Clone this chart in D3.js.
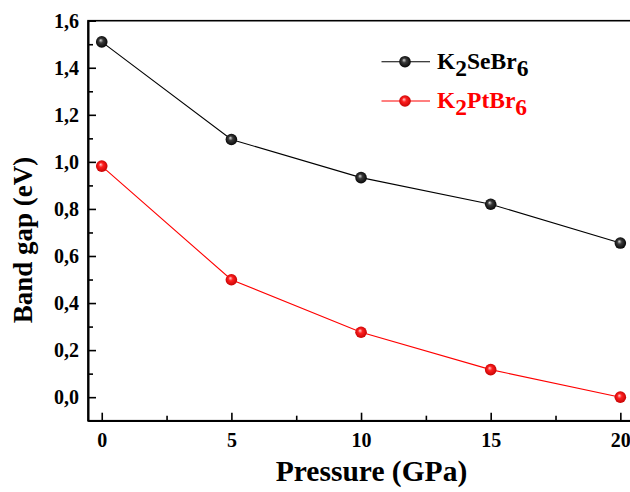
<!DOCTYPE html>
<html>
<head>
<meta charset="utf-8">
<script src="https://cdn.jsdelivr.net/npm/d3@7"></script>
<style>
  html, body { margin: 0; padding: 0; background: #fff; }
  svg { display: block; font-family: "Liberation Serif", "Times New Roman", serif; }
</style>
</head>
<body>
<svg id="chart" width="630" height="492"></svg>
<script>
// Band gap vs pressure for two double perovskites
const pressure = [0, 5, 10, 15, 20];
const gapSe = [1.51, 1.095, 0.933, 0.82, 0.655];
const gapPt = [0.982, 0.499, 0.276, 0.117, 0.0];
const xTicks = [0, 5, 10, 15, 20];
const yTicks = [0, 0.2, 0.4, 0.6, 0.8, 1.0, 1.2, 1.4, 1.6];

const svg = d3.select("#chart");
const plotLeft = 88, plotTop = 20.7, plotBottom = 420.7;

const x = d3.scaleLinear().domain([-0.53, 21.5]).range([plotLeft, plotLeft + 22.03 * 25.93]);
const y = d3.scaleLinear().domain([-0.1, 1.6]).range([plotBottom, plotTop]);

const fmt = d => d3.format(".1f")(d).replace(".", ",");

// sphere-like marker gradients
const defs = svg.append("defs");
function sphere(id, hi, mid, dark) {
  const g = defs.append("radialGradient").attr("id", id)
    .attr("cx", "50%").attr("cy", "50%").attr("r", "55%")
    .attr("fx", "40%").attr("fy", "35%");
  g.append("stop").attr("offset", "0%").attr("stop-color", hi);
  g.append("stop").attr("offset", "35%").attr("stop-color", mid);
  g.append("stop").attr("offset", "100%").attr("stop-color", dark);
}
sphere("ballBlack", "#d8d8d8", "#3a3a3a", "#000");
sphere("ballRed", "#ffd0d0", "#ff2020", "#c00000");

// frame
const plotRight = x.range()[1];
svg.append("rect").attr("x", plotLeft).attr("y", plotTop)
  .attr("width", plotRight - plotLeft).attr("height", plotBottom - plotTop)
  .attr("fill", "none").attr("stroke", "#000").attr("stroke-width", 1.6);

// axes with inward ticks
const xAxis = svg.append("g").attr("transform", `translate(0,${plotBottom})`)
  .call(d3.axisBottom(x).tickValues(xTicks).tickSizeInner(-8).tickSizeOuter(0).tickPadding(12).tickFormat(d3.format("d")));
const xMinor = svg.append("g").attr("transform", `translate(0,${plotBottom})`)
  .call(d3.axisBottom(x).tickValues([2.5, 7.5, 12.5, 17.5]).tickSizeInner(-5).tickSizeOuter(0).tickFormat(""));
const yAxis = svg.append("g").attr("transform", `translate(${plotLeft},0)`)
  .call(d3.axisLeft(y).tickValues(yTicks).tickSizeInner(-8).tickSizeOuter(0).tickPadding(9).tickFormat(fmt));
const yMinor = svg.append("g").attr("transform", `translate(${plotLeft},0)`)
  .call(d3.axisLeft(y).tickValues([0.1, 0.3, 0.5, 0.7, 0.9, 1.1, 1.3, 1.5]).tickSizeInner(-5).tickSizeOuter(0).tickFormat(""));

[xAxis, xMinor, yAxis, yMinor].forEach(g => {
  g.select(".domain").attr("stroke", "#000").attr("stroke-width", 1.6);
  g.selectAll(".tick line").attr("stroke", "#000").attr("stroke-width", 1.6);
  g.selectAll(".tick text").attr("fill", "#000")
    .style("font-family", '"Liberation Serif", serif')
    .style("font-weight", "bold").style("font-size", "20px");
});
xAxis.selectAll(".tick text").attr("dy", "0.71em");

// axis titles
svg.append("text").attr("x", 371.5).attr("y", 481)
  .attr("text-anchor", "middle").style("font-weight", "bold").style("font-size", "29.5px")
  .text("Pressure (GPa)");
svg.append("text").attr("transform", `translate(32,240) rotate(-90)`)
  .attr("text-anchor", "middle").style("font-weight", "bold").style("font-size", "27px")
  .text("Band gap (eV)");

// series
const series = [
  { vals: gapSe, color: "#000", ball: "url(#ballBlack)" },
  { vals: gapPt, color: "#ff0000", ball: "url(#ballRed)" }
];
const line = d3.line().x(d => x(d[0])).y(d => y(d[1]));
series.forEach(s => {
  const pts = pressure.map((p, i) => [p, s.vals[i]]);
  svg.append("path").attr("d", line(pts)).attr("fill", "none")
    .attr("stroke", s.color).attr("stroke-width", 1.1);
  svg.selectAll(null).data(pts).enter().append("circle")
    .attr("cx", d => x(d[0])).attr("cy", d => y(d[1])).attr("r", 5.8)
    .attr("fill", s.ball);
});

// legend
const legend = [
  { name: ["K", "2", "SeBr", "6"], color: "#000", ball: "url(#ballBlack)", y: 61.7 },
  { name: ["K", "2", "PtBr", "6"], color: "#ff0000", ball: "url(#ballRed)", y: 101 }
];
legend.forEach(l => {
  svg.append("line").attr("x1", 381.5).attr("x2", 430).attr("y1", l.y).attr("y2", l.y)
    .attr("stroke", l.color).attr("stroke-width", 1.1);
  svg.append("circle").attr("cx", 405).attr("cy", l.y).attr("r", 5.8).attr("fill", l.ball);
  const t = svg.append("text").attr("x", 437).attr("y", l.y + 7)
    .attr("fill", l.color).style("font-weight", "bold").style("font-size", "23.5px");
  l.name.forEach((part, i) => {
    const ts = t.append("tspan").text(part);
    if (i % 2 === 1) ts.attr("dy", 7);
    else if (i > 0) ts.attr("dy", -7);
  });
});
</script>
</body>
</html>
